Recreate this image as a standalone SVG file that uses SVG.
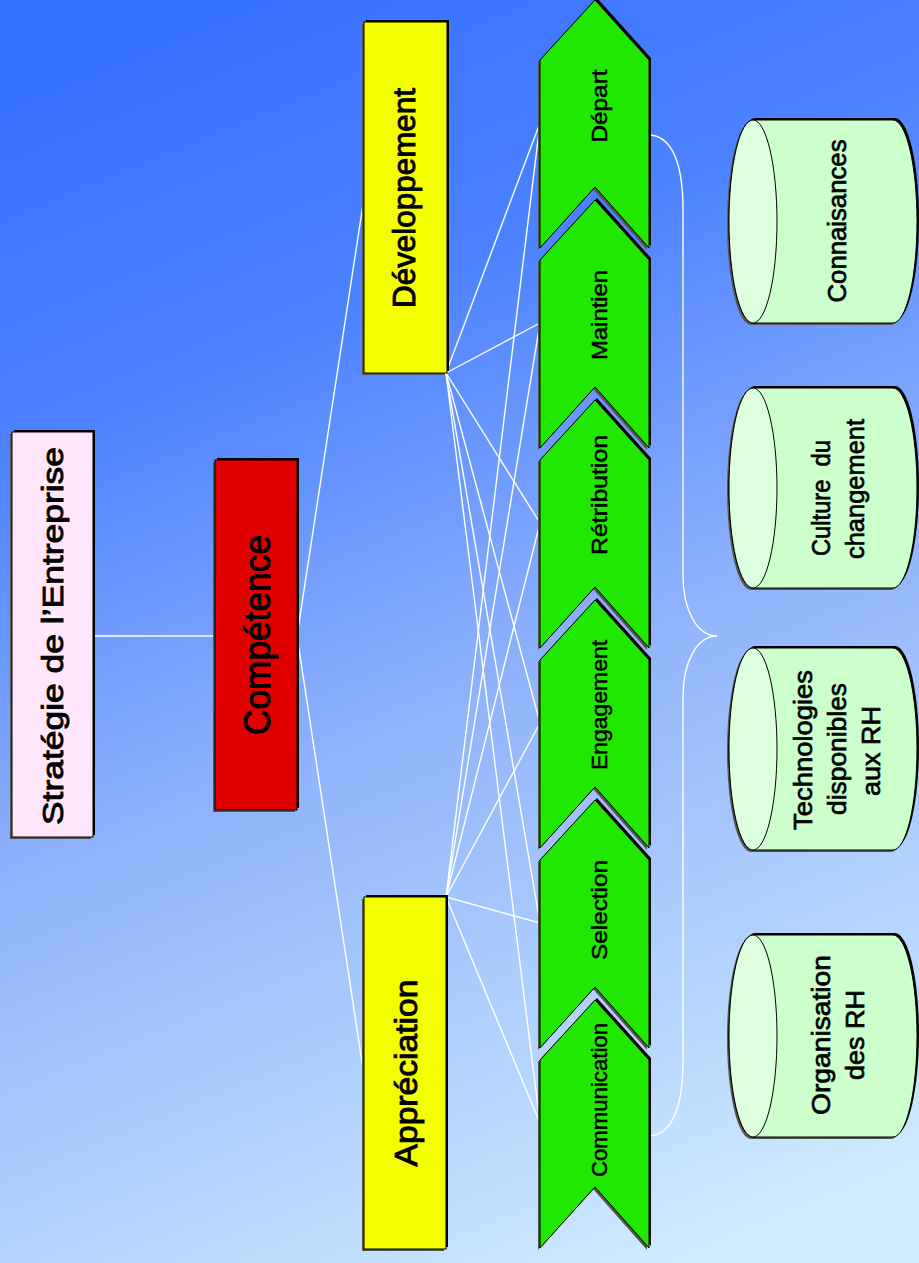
<svg xmlns="http://www.w3.org/2000/svg" width="919" height="1263" viewBox="0 0 919 1263">
<defs>
<linearGradient id="bg" gradientUnits="userSpaceOnUse" x1="200" y1="0" x2="719" y2="1263">
<stop offset="0" stop-color="#3670FF"/>
<stop offset="0.25" stop-color="#4C82FF"/>
<stop offset="0.55" stop-color="#90B3FB"/>
<stop offset="1" stop-color="#D0EDFF"/>
</linearGradient>
<polygon id="chev" points="595,0 649,60 649,248 595,187 540,248 540,60"/>
</defs>
<style>
.lbl{font-family:"Liberation Sans",Arial,sans-serif;fill:#000;text-anchor:middle;stroke:#000}
.pre{white-space:pre}
.big{stroke-width:0.9}
.cy{stroke-width:0.7}
.sm{stroke-width:0.5}
.con{stroke:#fff;stroke-width:1.4;fill:none}
.sh{fill:#555}
.bk{fill:#000}
.ch{fill:#20E800;stroke:#000;stroke-width:1}
.cyl{fill:#CCFFCC;stroke:#000;stroke-width:1}
.cylf{fill:#DDFFDD;stroke:#000;stroke-width:1}
</style>
<rect x="0" y="0" width="919" height="1263" fill="url(#bg)"/>

<g id="connectors">
<line class="con" x1="93" y1="636" x2="215" y2="636"/>
<line class="con" x1="297" y1="636" x2="364" y2="198"/>
<line class="con" x1="297" y1="636" x2="364" y2="1075"/>
<line class="con" x1="446" y1="373" x2="540" y2="123"/>
<line class="con" x1="446" y1="373" x2="540" y2="323"/>
<line class="con" x1="446" y1="373" x2="540" y2="523"/>
<line class="con" x1="446" y1="373" x2="540" y2="723"/>
<line class="con" x1="446" y1="373" x2="540" y2="923"/>
<line class="con" x1="446" y1="373" x2="540" y2="1123"/>
<line class="con" x1="446" y1="897" x2="540" y2="123"/>
<line class="con" x1="446" y1="897" x2="540" y2="323"/>
<line class="con" x1="446" y1="897" x2="540" y2="523"/>
<line class="con" x1="446" y1="897" x2="540" y2="723"/>
<line class="con" x1="446" y1="897" x2="540" y2="923"/>
<line class="con" x1="446" y1="897" x2="540" y2="1123"/>
<path class="con" stroke-width="1.5" d="M648,135 C668,135 683,155 683,210 L683,575 C683,612 698,636 717,636 C698,636 683,660 683,697 L683,1061 C683,1115 668,1136 648,1136"/>
</g>

<g id="strategie">
<rect class="sh" x="10" y="434" width="81" height="405"/>
<rect class="bk" x="14" y="430" width="81" height="405"/>
<rect x="12" y="432" width="81" height="405" fill="#FFE6FB" stroke="#000" stroke-width="1"/>
<text class="lbl big" font-size="30" textLength="378" lengthAdjust="spacingAndGlyphs" transform="translate(63,636) rotate(-90)">Stratégie de l’Entreprise</text>
</g>

<g id="competence">
<rect class="sh" x="213" y="462" width="82" height="350"/>
<rect class="bk" x="217" y="458" width="82" height="350"/>
<rect x="215" y="460" width="82" height="350" fill="#E00000" stroke="#000" stroke-width="1"/>
<text class="lbl big" font-size="36" textLength="200" lengthAdjust="spacingAndGlyphs" transform="translate(270,635) rotate(-90)">Compétence</text>
</g>

<g id="developpement">
<rect class="sh" x="362" y="24" width="83" height="351"/>
<rect class="bk" x="366" y="20" width="83" height="351"/>
<rect x="364" y="22" width="83" height="351" fill="#F3FF00" stroke="#000" stroke-width="1"/>
<text class="lbl big" font-size="31" textLength="220" lengthAdjust="spacingAndGlyphs" transform="translate(415,198) rotate(-90)">Développement</text>
</g>

<g id="appreciation">
<rect class="sh" x="362" y="899" width="82" height="352"/>
<rect class="bk" x="366" y="895" width="82" height="352"/>
<rect x="364" y="897" width="82" height="352" fill="#F3FF00" stroke="#000" stroke-width="1"/>
<text class="lbl big" font-size="31" textLength="187" lengthAdjust="spacingAndGlyphs" transform="translate(417,1073) rotate(-90)">Appréciation</text>
</g>

<g id="depart">
<use href="#chev" class="sh" x="-2" y="2"/>
<use href="#chev" class="bk" x="2" y="-2"/>
<use href="#chev" class="ch"/>
<text class="lbl sm" font-size="22" textLength="73" lengthAdjust="spacingAndGlyphs" transform="translate(607,106) rotate(-90)">Départ</text>
</g>
<g id="maintien">
<use href="#chev" class="sh" x="-2" y="202"/>
<use href="#chev" class="bk" x="2" y="198"/>
<use href="#chev" class="ch" y="200"/>
<text class="lbl sm" font-size="22" textLength="90" lengthAdjust="spacingAndGlyphs" transform="translate(607,315) rotate(-90)">Maintien</text>
</g>
<g id="retribution">
<use href="#chev" class="sh" x="-2" y="402"/>
<use href="#chev" class="bk" x="2" y="398"/>
<use href="#chev" class="ch" y="400"/>
<text class="lbl sm" font-size="22" textLength="120" lengthAdjust="spacingAndGlyphs" transform="translate(607,495) rotate(-90)">Rétribution</text>
</g>
<g id="engagement">
<use href="#chev" class="sh" x="-2" y="602"/>
<use href="#chev" class="bk" x="2" y="598"/>
<use href="#chev" class="ch" y="600"/>
<text class="lbl sm" font-size="22" textLength="130" lengthAdjust="spacingAndGlyphs" transform="translate(607,705) rotate(-90)">Engagement</text>
</g>
<g id="selection">
<use href="#chev" class="sh" x="-2" y="802"/>
<use href="#chev" class="bk" x="2" y="798"/>
<use href="#chev" class="ch" y="800"/>
<text class="lbl sm" font-size="22" textLength="100" lengthAdjust="spacingAndGlyphs" transform="translate(607,910) rotate(-90)">Selection</text>
</g>
<g id="communication">
<use href="#chev" class="sh" x="-2" y="1002"/>
<use href="#chev" class="bk" x="2" y="998"/>
<use href="#chev" class="ch" y="1000"/>
<text class="lbl sm" font-size="22" textLength="154" lengthAdjust="spacingAndGlyphs" transform="translate(607,1100) rotate(-90)">Communication</text>
</g>

<g id="connaisances">
<path class="sh" d="M751,122 L891,122 A24,101.5 0 0 1 891,325 L751,325 A24,101.5 0 0 1 751,122 Z"/>
<path class="bk" d="M755,118 L895,118 A24,101.5 0 0 1 895,321 L755,321 A24,101.5 0 0 1 755,118 Z"/>
<path class="cyl" d="M753,120 L893,120 A24,101.5 0 0 1 893,323 L753,323 A24,101.5 0 0 1 753,120 Z"/>
<ellipse class="cylf" cx="753" cy="221.5" rx="24" ry="101.5"/>
<text class="lbl cy" font-size="26" textLength="163" lengthAdjust="spacingAndGlyphs" transform="translate(846,221) rotate(-90)">Connaisances</text>
</g>

<g id="culture">
<path class="sh" d="M751,390 L891,390 A24,100 0 0 1 891,590 L751,590 A24,100 0 0 1 751,390 Z"/>
<path class="bk" d="M755,386 L895,386 A24,100 0 0 1 895,586 L755,586 A24,100 0 0 1 755,386 Z"/>
<path class="cyl" d="M753,388 L893,388 A24,100 0 0 1 893,588 L753,588 A24,100 0 0 1 753,388 Z"/>
<ellipse class="cylf" cx="753" cy="488" rx="24" ry="100"/>
<text class="lbl cy pre" xml:space="preserve" font-size="26" textLength="116" lengthAdjust="spacingAndGlyphs" transform="translate(830,498) rotate(-90)">Culture  du</text>
<text class="lbl cy" font-size="26" textLength="140" lengthAdjust="spacingAndGlyphs" transform="translate(864,489) rotate(-90)">changement</text>
</g>

<g id="technologies">
<path class="sh" d="M751,650 L891,650 A24,101 0 0 1 891,852 L751,852 A24,101 0 0 1 751,650 Z"/>
<path class="bk" d="M755,646 L895,646 A24,101 0 0 1 895,848 L755,848 A24,101 0 0 1 755,646 Z"/>
<path class="cyl" d="M753,648 L893,648 A24,101 0 0 1 893,850 L753,850 A24,101 0 0 1 753,648 Z"/>
<ellipse class="cylf" cx="753" cy="749" rx="24" ry="101"/>
<text class="lbl cy" font-size="26" textLength="160" lengthAdjust="spacingAndGlyphs" transform="translate(812,750) rotate(-90)">Technologies</text>
<text class="lbl cy" font-size="26" textLength="132" lengthAdjust="spacingAndGlyphs" transform="translate(846,749) rotate(-90)">disponibles</text>
<text class="lbl cy" font-size="26" textLength="90" lengthAdjust="spacingAndGlyphs" transform="translate(880,751) rotate(-90)">aux RH</text>
</g>

<g id="organisation">
<path class="sh" d="M751,937 L891,937 A24,101 0 0 1 891,1139 L751,1139 A24,101 0 0 1 751,937 Z"/>
<path class="bk" d="M755,933 L895,933 A24,101 0 0 1 895,1135 L755,1135 A24,101 0 0 1 755,933 Z"/>
<path class="cyl" d="M753,935 L893,935 A24,101 0 0 1 893,1137 L753,1137 A24,101 0 0 1 753,935 Z"/>
<ellipse class="cylf" cx="753" cy="1036" rx="24" ry="101"/>
<text class="lbl cy" font-size="26" textLength="160" lengthAdjust="spacingAndGlyphs" transform="translate(830,1035) rotate(-90)">Organisation</text>
<text class="lbl cy" font-size="26" textLength="90" lengthAdjust="spacingAndGlyphs" transform="translate(864,1035) rotate(-90)">des RH</text>
</g>
</svg>
